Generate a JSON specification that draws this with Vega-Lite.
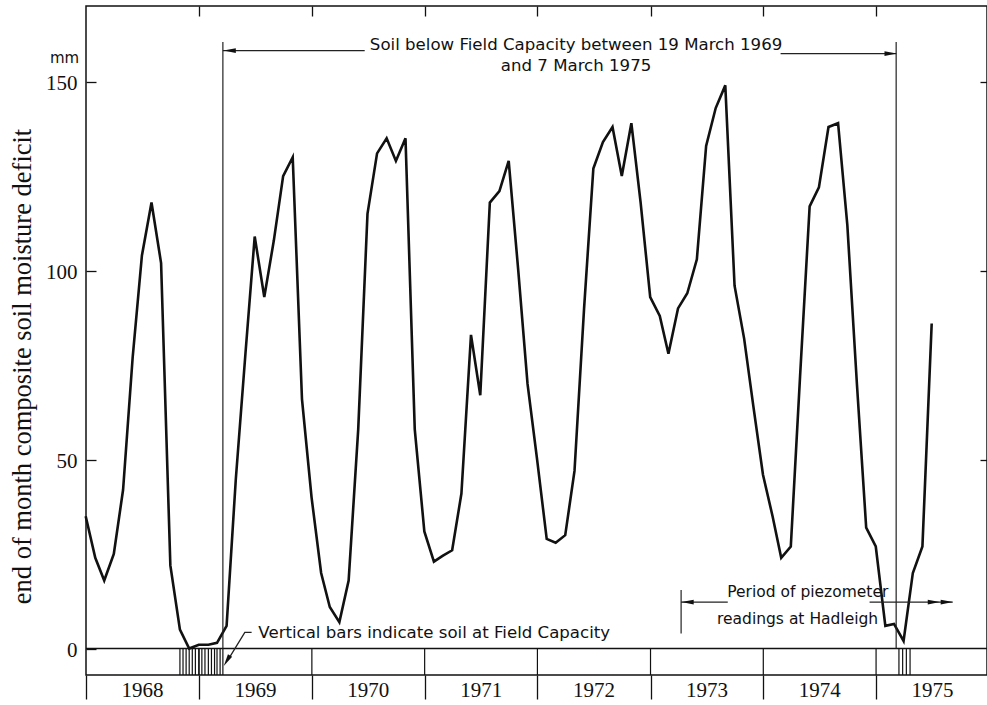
{
  "$schema": "https://vega.github.io/schema/vega-lite/v6.json",
  "width": 901,
  "height": 669,
  "autosize": {"type": "none"},
  "padding": {"left": 86, "top": 6, "right": 0, "bottom": 30},
  "background": "white",
  "title": {
    "text": "mm",
    "anchor": "start",
    "frame": "group",
    "orient": "top",
    "offset": 0,
    "dx": -36,
    "dy": 68,
    "baseline": "middle",
    "font": "DejaVu Sans",
    "fontSize": 15,
    "fontWeight": "normal",
    "color": "#111"
  },
  "config": {
    "view": {"stroke": "#111", "strokeWidth": 1.5},
    "font": "DejaVu Sans"
  },
  "resolve": {"axis": {"x": "independent", "y": "independent"}},
  "datasets": {
    "series": [
      {"date": "1967-12-31", "level": 35},
      {"date": "1968-01-31", "level": 24},
      {"date": "1968-02-29", "level": 18},
      {"date": "1968-03-31", "level": 25},
      {"date": "1968-04-30", "level": 42},
      {"date": "1968-05-31", "level": 77},
      {"date": "1968-06-30", "level": 104},
      {"date": "1968-07-31", "level": 118},
      {"date": "1968-08-31", "level": 102},
      {"date": "1968-09-30", "level": 22},
      {"date": "1968-10-31", "level": 5},
      {"date": "1968-11-30", "level": 0},
      {"date": "1968-12-31", "level": 1},
      {"date": "1969-01-31", "level": 1},
      {"date": "1969-02-28", "level": 1.5},
      {"date": "1969-03-31", "level": 6},
      {"date": "1969-04-30", "level": 45},
      {"date": "1969-05-31", "level": 78},
      {"date": "1969-06-30", "level": 109},
      {"date": "1969-07-31", "level": 93},
      {"date": "1969-08-31", "level": 108},
      {"date": "1969-09-30", "level": 125},
      {"date": "1969-10-31", "level": 130},
      {"date": "1969-11-30", "level": 66},
      {"date": "1969-12-31", "level": 40},
      {"date": "1970-01-31", "level": 20},
      {"date": "1970-02-28", "level": 11},
      {"date": "1970-03-31", "level": 7},
      {"date": "1970-04-30", "level": 18},
      {"date": "1970-05-31", "level": 58},
      {"date": "1970-06-30", "level": 115},
      {"date": "1970-07-31", "level": 131},
      {"date": "1970-08-31", "level": 135},
      {"date": "1970-09-30", "level": 129},
      {"date": "1970-10-31", "level": 135},
      {"date": "1970-11-30", "level": 58},
      {"date": "1970-12-31", "level": 31},
      {"date": "1971-01-31", "level": 23},
      {"date": "1971-02-28", "level": 24.5},
      {"date": "1971-03-31", "level": 26},
      {"date": "1971-04-30", "level": 41},
      {"date": "1971-05-31", "level": 83},
      {"date": "1971-06-30", "level": 67},
      {"date": "1971-07-31", "level": 118},
      {"date": "1971-08-31", "level": 121},
      {"date": "1971-09-30", "level": 129},
      {"date": "1971-10-31", "level": 100},
      {"date": "1971-11-30", "level": 70},
      {"date": "1971-12-31", "level": 50},
      {"date": "1972-01-31", "level": 29},
      {"date": "1972-02-29", "level": 28},
      {"date": "1972-03-31", "level": 30},
      {"date": "1972-04-30", "level": 47},
      {"date": "1972-05-31", "level": 90},
      {"date": "1972-06-30", "level": 127},
      {"date": "1972-07-31", "level": 134},
      {"date": "1972-08-31", "level": 138},
      {"date": "1972-09-30", "level": 125},
      {"date": "1972-10-31", "level": 139},
      {"date": "1972-11-30", "level": 118},
      {"date": "1972-12-31", "level": 93},
      {"date": "1973-01-31", "level": 88},
      {"date": "1973-02-28", "level": 78},
      {"date": "1973-03-31", "level": 90},
      {"date": "1973-04-30", "level": 94},
      {"date": "1973-05-31", "level": 103},
      {"date": "1973-06-30", "level": 133},
      {"date": "1973-07-31", "level": 143},
      {"date": "1973-08-31", "level": 149},
      {"date": "1973-09-30", "level": 96},
      {"date": "1973-10-31", "level": 82},
      {"date": "1973-11-30", "level": 64},
      {"date": "1973-12-31", "level": 46},
      {"date": "1974-01-31", "level": 35},
      {"date": "1974-02-28", "level": 24},
      {"date": "1974-03-31", "level": 27},
      {"date": "1974-04-30", "level": 72},
      {"date": "1974-05-31", "level": 117},
      {"date": "1974-06-30", "level": 122},
      {"date": "1974-07-31", "level": 138},
      {"date": "1974-08-31", "level": 139},
      {"date": "1974-09-30", "level": 112},
      {"date": "1974-10-31", "level": 70},
      {"date": "1974-11-30", "level": 32},
      {"date": "1974-12-31", "level": 27},
      {"date": "1975-01-31", "level": 6},
      {"date": "1975-02-28", "level": 6.5},
      {"date": "1975-03-31", "level": 2},
      {"date": "1975-04-30", "level": 20},
      {"date": "1975-05-31", "level": 27},
      {"date": "1975-06-30", "level": 86}
    ],
    "fieldCapacity": [
      {"date": "1968-10-31"}, {"date": "1968-11-10"}, {"date": "1968-11-20"},
      {"date": "1968-11-30"}, {"date": "1968-12-10"}, {"date": "1968-12-20"},
      {"date": "1968-12-31"}, {"date": "1969-01-10"}, {"date": "1969-01-20"},
      {"date": "1969-01-31"}, {"date": "1969-02-10"}, {"date": "1969-02-20"},
      {"date": "1969-02-28"}, {"date": "1969-03-10"}, {"date": "1969-03-19"},
      {"date": "1975-03-16"}, {"date": "1975-03-28"}, {"date": "1975-04-09"},
      {"date": "1975-04-21"}
    ],
    "years": [
      {"date": "1969-01-01"}, {"date": "1970-01-01"}, {"date": "1971-01-01"},
      {"date": "1972-01-01"}, {"date": "1973-01-01"}, {"date": "1974-01-01"},
      {"date": "1975-01-01"}
    ],
    "markers": [
      {"date": "1969-03-19", "level": 0, "top": 160.5},
      {"date": "1975-03-07", "level": 0, "top": 160.5},
      {"date": "1973-04-10", "level": 4, "top": 15.5}
    ],
    "arrows": [
      {"date": "1969-03-19", "end": "1970-06-21", "level": 158.2},
      {"date": "1974-02-26", "end": "1975-03-07", "level": 157.4},
      {"date": "1973-04-10", "end": "1973-09-08", "level": 12.3},
      {"date": "1974-12-11", "end": "1975-09-06", "level": 12.3}
    ],
    "heads": [
      {"date": "1969-04-10", "level": 158.2, "shape": "M -1 0 L 1 -0.38 L 1 0.38 Z", "angle": 0},
      {"date": "1975-02-17", "level": 157.4, "shape": "M 1 0 L -1 -0.38 L -1 0.38 Z", "angle": 0},
      {"date": "1973-05-01", "level": 12.3, "shape": "M -1 0 L 1 -0.38 L 1 0.38 Z", "angle": 0},
      {"date": "1975-07-07", "level": 12.3, "shape": "M 1 0 L -1 -0.38 L -1 0.38 Z", "angle": 0},
      {"date": "1975-08-18", "level": 12.3, "shape": "M 1 0 L -1 -0.38 L -1 0.38 Z", "angle": 0},
      {"date": "1969-04-01", "level": -3.2, "shape": "M 0 -1 L 0.4 1 L -0.4 1 Z", "angle": 211}
    ],
    "leader": [
      {"date": "1969-06-20", "level": 4.3, "order": 1},
      {"date": "1969-05-29", "level": 4.3, "order": 2},
      {"date": "1969-04-12", "level": -2.0, "order": 3}
    ],
    "notes": [
      {"date": "1972-05-05", "level": 159.8, "text": "Soil below Field Capacity between 19 March 1969"},
      {"date": "1972-05-05", "level": 154.0, "text": "and 7 March 1975"},
      {"date": "1971-02-01", "level": 4.0, "text": "Vertical bars indicate soil at Field Capacity"}
    ],
    "piezometer": [
      {"date": "1974-05-25", "level": 15.0, "text": "Period of piezometer"},
      {"date": "1974-04-22", "level": 7.7, "text": "readings at Hadleigh"}
    ]
  },
  "layer": [
    {
      "data": {"name": "fieldCapacity"},
      "mark": {"type": "rule", "color": "#111", "strokeWidth": 1.2},
      "encoding": {
        "x": {"field": "date", "type": "temporal", "axis": null},
        "y": {"datum": -7, "axis": null},
        "y2": {"datum": 0}
      }
    },
    {
      "data": {"name": "years"},
      "mark": {"type": "rule", "color": "#111", "strokeWidth": 1.2},
      "encoding": {
        "x": {
          "field": "date",
          "type": "temporal",
          "axis": {
            "orient": "top",
            "values": [
              {"year": 1969, "month": 1, "date": 1},
              {"year": 1970, "month": 1, "date": 1},
              {"year": 1971, "month": 1, "date": 1},
              {"year": 1972, "month": 1, "date": 1},
              {"year": 1973, "month": 1, "date": 1},
              {"year": 1974, "month": 1, "date": 1},
              {"year": 1975, "month": 1, "date": 1}
            ],
            "tickSize": -10,
            "tickWidth": 1.3,
            "tickColor": "#111",
            "labels": false,
            "domain": false,
            "grid": false,
            "title": null
          }
        },
        "y": {"datum": -7, "axis": null},
        "y2": {"datum": 0}
      }
    },
    {
      "data": {"values": [{}]},
      "mark": {"type": "rule", "color": "#111", "strokeWidth": 1.4},
      "encoding": {"y": {"datum": 0, "axis": null}}
    },
    {
      "data": {"name": "series"},
      "mark": {"type": "line", "color": "#111", "strokeWidth": 2.6, "strokeJoin": "miter"},
      "encoding": {
        "x": {
          "field": "date",
          "type": "temporal",
          "scale": {
            "domain": [
              {"year": 1968, "month": 1, "date": 1},
              {"year": 1975, "month": 12, "date": 26}
            ],
            "nice": false
          },
          "axis": {
            "orient": "bottom",
            "values": [
              {"year": 1968, "month": 1, "date": 1},
              {"year": 1969, "month": 1, "date": 1},
              {"year": 1970, "month": 1, "date": 1},
              {"year": 1971, "month": 1, "date": 1},
              {"year": 1972, "month": 1, "date": 1},
              {"year": 1973, "month": 1, "date": 1},
              {"year": 1974, "month": 1, "date": 1},
              {"year": 1975, "month": 1, "date": 1}
            ],
            "format": "%Y",
            "tickSize": 24,
            "tickWidth": 1.3,
            "tickColor": "#111",
            "domain": false,
            "grid": false,
            "labelOffset": 56,
            "labelAlign": "center",
            "labelBaseline": "alphabetic",
            "labelPadding": -3,
            "labelFont": "Liberation Serif",
            "labelFontSize": 21,
            "labelColor": "#111",
            "labelFlush": false,
            "labelOverlap": false,
            "title": null
          }
        },
        "y": {
          "field": "level",
          "type": "quantitative",
          "scale": {"domain": [-7, 170], "nice": false, "zero": false},
          "axis": {
            "orient": "left",
            "values": [0, 50, 100, 150],
            "tickSize": -10,
            "tickWidth": 1.3,
            "tickColor": "#111",
            "domain": false,
            "grid": false,
            "labelPadding": 19,
            "labelOffset": 2,
            "labelFont": "Liberation Serif",
            "labelFontSize": 21,
            "labelColor": "#111",
            "title": "end of month composite soil moisture deficit",
            "titleFont": "Liberation Serif",
            "titleFontSize": 26.5,
            "titleFontWeight": "normal",
            "titleColor": "#111",
            "titleX": -64,
            "titleY": 360,
            "titleAlign": "center",
            "titleBaseline": "middle"
          }
        }
      }
    },
    {
      "data": {"name": "markers"},
      "mark": {"type": "rule", "color": "#222", "strokeWidth": 1.2},
      "encoding": {
        "x": {"field": "date", "type": "temporal", "axis": null},
        "y": {"field": "level", "type": "quantitative", "axis": null},
        "y2": {"field": "top"}
      }
    },
    {
      "data": {"name": "arrows"},
      "mark": {"type": "rule", "color": "#222", "strokeWidth": 1.2},
      "encoding": {
        "x": {"field": "date", "type": "temporal", "axis": null},
        "x2": {"field": "end"},
        "y": {"field": "level", "type": "quantitative", "axis": null}
      }
    },
    {
      "data": {"name": "leader"},
      "mark": {"type": "line", "color": "#222", "strokeWidth": 1.3},
      "encoding": {
        "x": {"field": "date", "type": "temporal", "axis": null},
        "y": {"field": "level", "type": "quantitative", "axis": null},
        "order": {"field": "order"}
      }
    },
    {
      "data": {"name": "heads"},
      "mark": {"type": "point", "filled": true, "color": "#111", "opacity": 1, "size": 150},
      "encoding": {
        "x": {"field": "date", "type": "temporal", "axis": null},
        "y": {"field": "level", "type": "quantitative", "axis": null},
        "shape": {"field": "shape", "type": "nominal", "scale": null},
        "angle": {"field": "angle", "type": "quantitative", "scale": null}
      }
    },
    {
      "data": {"name": "piezometer"},
      "mark": {"type": "text", "font": "DejaVu Sans", "fontSize": 15.5, "color": "#111", "align": "center", "baseline": "middle"},
      "encoding": {
        "x": {"field": "date", "type": "temporal", "axis": null},
        "y": {"field": "level", "type": "quantitative", "axis": null},
        "text": {"field": "text"}
      }
    },
    {
      "data": {"name": "notes"},
      "mark": {"type": "text", "font": "DejaVu Sans", "fontSize": 16.6, "color": "#111", "align": "center", "baseline": "middle"},
      "encoding": {
        "x": {"field": "date", "type": "temporal", "axis": null},
        "y": {
          "field": "level",
          "type": "quantitative",
          "axis": {
            "orient": "right",
            "values": [50, 100, 150],
            "tickSize": -7,
            "tickWidth": 1.3,
            "tickColor": "#111",
            "labels": false,
            "domain": false,
            "grid": false,
            "title": null
          }
        },
        "text": {"field": "text"}
      }
    }
  ]
}
